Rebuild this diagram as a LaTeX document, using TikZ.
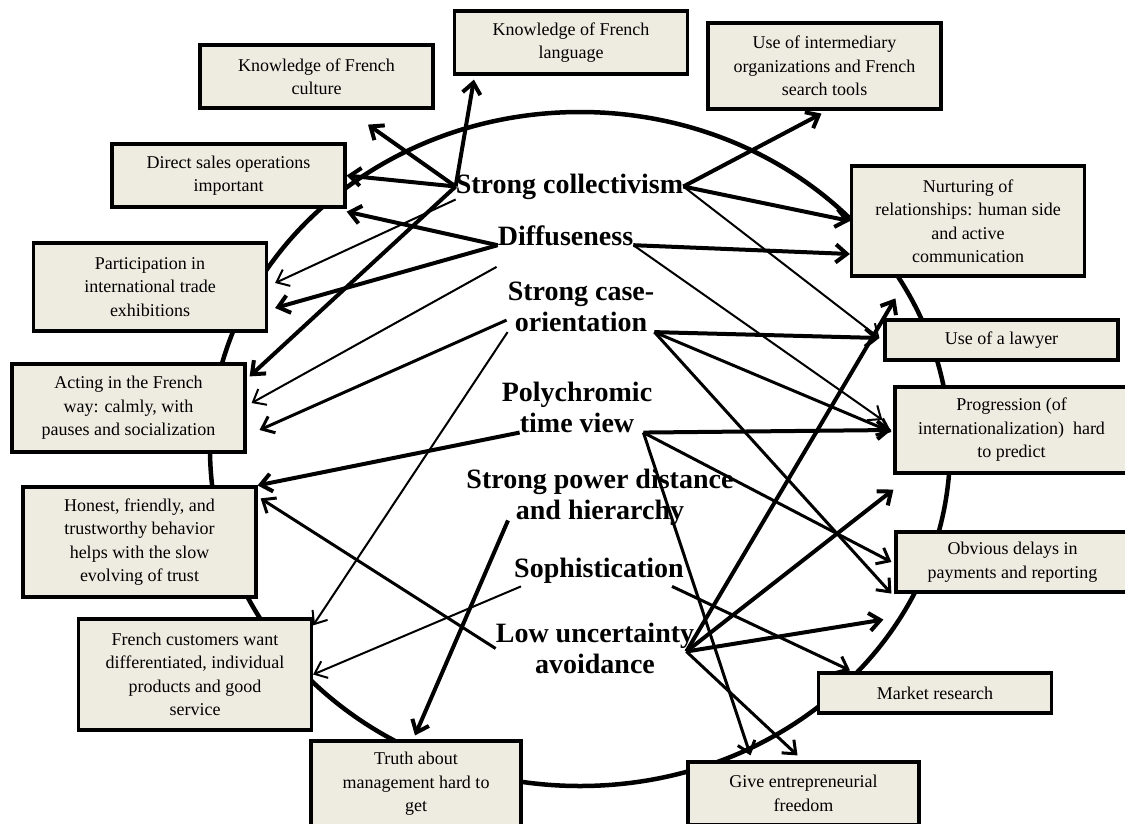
\documentclass[tikz,border=0pt]{standalone}
\usepackage{fontspec}
\setmainfont{Liberation Serif}
\usepackage{xcolor}
\usepackage{tikz}
\usetikzlibrary{arrows.meta}
\definecolor{boxbg}{RGB}{238,236,225}

\begin{document}
\begin{tikzpicture}[
  x=1pt, y=-1pt,
  box/.style={
      draw=black,
      fill=boxbg,
      line width=3.2pt,
      minimum width=233pt,
      inner sep=0pt,
      align=center,
      font=\fontsize{18}{23.5}\selectfont
  },
  dim/.style={
      inner sep=0pt,
      align=center,
      font=\fontsize{28}{31}\selectfont\bfseries
  },
  thk/.style={-{Straight Barb[length=11pt,width=18pt]}, line width=4pt},
  med/.style={-{Straight Barb[length=11pt,width=18pt]}, line width=3pt},
  thn/.style={-{Straight Barb[length=11pt,width=18pt]}, line width=2pt}
]
\useasboundingbox (0,0) rectangle (1125,823);

\draw[line width=4.5pt] (580,449) ellipse [x radius=370, y radius=337];

\node[box, minimum height=63pt]  (culture)  at (316.5,76.5)  {Knowledge of French\\culture};
\node[box, minimum height=63pt]  (language) at (571,42.5)    {Knowledge of French\\language};
\node[box, minimum height=86pt]  (interm)   at (824.5,66)    {Use of intermediary\\organizations and French\\search tools};
\node[box, minimum height=63pt]  (direct)   at (228.5,175.5) {Direct sales operations\\important};
\node[box, minimum height=110pt] (nurture)  at (968,221)     {Nurturing of\\relationships: human side\\and active\\communication};
\node[box, minimum height=88pt]  (partic)   at (150,287)     {Participation in\\international trade\\exhibitions};
\node[box, minimum height=40pt]  (lawyer)   at (1001.5,340)  {Use of a lawyer};
\node[box, minimum height=88pt]  (acting)   at (128.5,408)   {Acting in the French\\way: calmly, with\\pauses and socialization};
\node[box, minimum height=86pt]  (progress) at (1011.5,430)  {Progression (of\\internationalization)~~hard\\to predict};
\node[box, minimum height=110pt] (honest)   at (139.5,542)   {Honest, friendly, and\\trustworthy behavior\\helps with the slow\\evolving of trust};
\node[box, minimum height=60pt]  (delays)   at (1012.5,562)  {Obvious delays in\\payments and reporting};
\node[box, minimum height=111pt] (custom)   at (195,674.5)   {French customers want\\differentiated, individual\\products and good\\service};
\node[box, minimum height=40pt]  (market)   at (935,693)     {Market research};
\node[box, minimum width=210pt, minimum height=86pt] (truth)   at (416,784)    {Truth about\\management hard to\\get};
\node[box, minimum width=231pt, minimum height=63pt] (freedom) at (803.5,793.5) {Give entrepreneurial\\freedom};

\node[dim] (coll)  at (569.5,186.5) {Strong collectivism};
\node[dim] (diff)  at (565.5,235.5) {Diffuseness};
\node[dim] (case)  at (581,307)     {Strong case-\\orientation};
\node[dim] (poly)  at (577,407)     {Polychromic\\time view};
\node[dim] (power) at (600,497)     {Strong power distance\\and hierarchy};
\node[dim] (soph)  at (599,570.5)   {Sophistication};
\node[dim] (low)   at (595,648.5)   {Low uncertainty\\avoidance};

\draw[thk] (coll.west) -- ([shift={(51.5,15)}]culture.south);
\draw[thk] (coll.west) -- (direct.east);
\draw[thk] (coll.west) -- ([shift={(21,4)}]language.south west);
\draw[thk] (coll.west) -- ([shift={(3,14)}]acting.north east);
\draw[thn] (coll.south west) -- ([shift={(7,-4)}]partic.east);
\draw[thk] (diff.base west) -- ([shift={(0,3)}]direct.south east);
\draw[thk] (diff.base west) -- ([shift={(7,21)}]partic.east);
\draw[thn] ([shift={(-11,-15)}]case.north west) -- ([shift={(5,-5)}]acting.east);
\draw[med] ([shift={(-1,-12)}]case.south west) -- ([shift={(13,22)}]acting.east);
\draw[thn] (case.south west) -- ([shift={(0,8)}]custom.north east);
\draw[thk] ([shift={(18,0)}]poly.south west) -- (honest.north east);
\draw[med] (low.west) -- ([shift={(3,13)}]honest.north east);
\draw[thn] ([shift={(7,3)}]soph.south west) -- (custom.east);
\draw[thk] ([shift={(-92,-5)}]power.south) -- ([shift={(-1,-4)}]truth.north);

\draw[thk] (coll.east) -- ([shift={(-3,3)}]interm.south);
\draw[thk] (coll.east) -- (nurture.west);
\draw[thn] (coll.east) -- ([shift={(-4,-2)}]lawyer.west);
\draw[thk] (diff.base east) -- ([shift={(0,33)}]nurture.west);
\draw[thn] (diff.base east) -- ([shift={(-11,-10)}]progress.west);
\draw[thk] (case.south east) -- ([shift={(-4,-2)}]lawyer.west);
\draw[med] (case.south east) -- ([shift={(-2,2)}]progress.west);
\draw[med] (case.south east) -- ([shift={(-3,0)}]delays.south west);
\draw[thk] ([shift={(-9,0)}]poly.south east) -- ([shift={(-2,0)}]progress.west);
\draw[med] ([shift={(-9,0)}]poly.south east) -- ([shift={(-3,0)}]delays.west);
\draw[med] ([shift={(-9,0)}]poly.south east) -- ([shift={(-53,-5)}]freedom.north);
\draw[med] ([shift={(-12,3)}]soph.south east) -- ([shift={(-85,-1)}]market.north);
\draw[thk] ([shift={(-8,3)}]low.east) -- ([shift={(12,-20)}]lawyer.north west);
\draw[thk] ([shift={(-8,3)}]low.east) -- ([shift={(0,15)}]progress.south west);
\draw[thk] ([shift={(-8,3)}]low.east) -- ([shift={(-11,26)}]delays.south west);
\draw[med] ([shift={(-8,3)}]low.east) -- ([shift={(-6,-5)}]freedom.north);

\end{tikzpicture}
\end{document}
